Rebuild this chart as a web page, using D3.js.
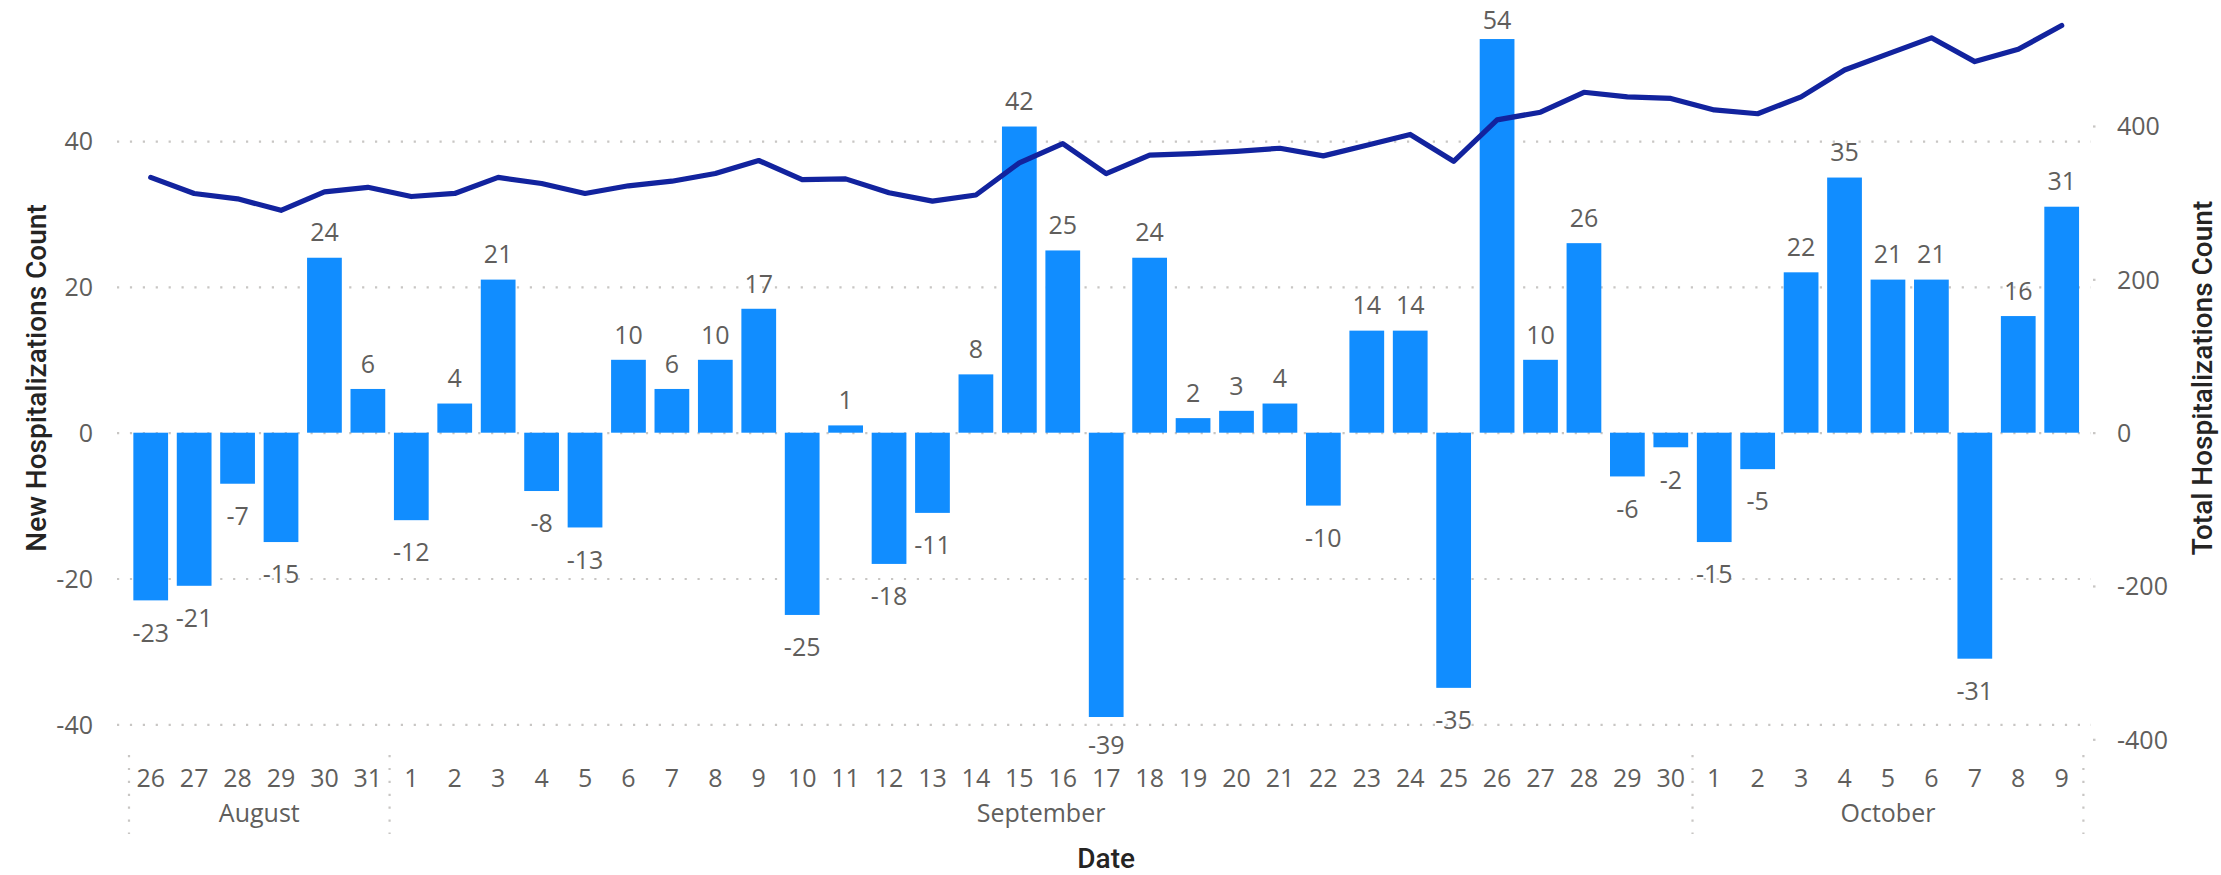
<!DOCTYPE html>
<html>
<head>
<meta charset="utf-8">
<script src="https://cdn.jsdelivr.net/npm/d3@7"></script>
<style>
  html, body { margin: 0; padding: 0; background: #ffffff; }
  svg { display: block; }
</style>
</head>
<body>
<svg id="chart" width="2221" height="875"></svg>
<script>
// ---------------- DATA ----------------
const dayLabels = ["26","27","28","29","30","31",
  "1","2","3","4","5","6","7","8","9","10","11","12","13","14","15","16","17","18","19","20",
  "21","22","23","24","25","26","27","28","29","30",
  "1","2","3","4","5","6","7","8","9"];
const monthNames = ["August", "September", "October"];
const monthDayCounts = [6, 30, 9];
const newHospitalizations = [-23,-21,-7,-15,24,6,
  -12,4,21,-8,-13,10,6,10,17,-25,1,-18,-11,8,42,25,-39,24,2,3,4,-10,14,14,-35,54,10,26,-6,-2,
  -15,-5,22,35,21,21,-31,16,31];
const totalHospitalizations = [333,312,305,290,314,320,
  308,312,333,325,312,322,328,338,355,330,331,313,302,310,352,377,338,362,364,367,371,361,375,389,354,408,418,444,438,436,
  421,416,438,473,494,515,484,500,531];
const leftTicks = [-40, -20, 0, 20, 40];
const rightTicks = [-400, -200, 0, 200, 400];
const leftTitle = "New Hospitalizations Count";
const rightTitle = "Total Hospitalizations Count";
const xTitle = "Date";

// ---------------- STYLE ----------------
const barColor = "#118DFF";
const lineColor = "#12239E";
const labelColor = "#605E5C";
const titleColor = "#252423";
const gridColor = "#C8C6C4";
const labelFont = "'Segoe UI', 'Open Sans', 'Noto Sans', sans-serif";
const titleFont = "'DIN', 'Roboto', 'Open Sans', sans-serif";
const fs = 25;
const fmt = d => String(d);

const svg = d3.select("#chart");

const idx = d3.range(newHospitalizations.length);
const x = d3.scaleBand().domain(idx).range([129, 2083.4]).paddingInner(0.2).paddingOuter(0.1);
const yL = d3.scaleLinear().domain([-40, 40]).range([724.3, 141.1]);
const yR = d3.scaleLinear().domain([-400, 400]).range([739.3, 126]);

// gridlines
const grid = svg.append("g").attr("transform", "translate(117,0)")
  .call(d3.axisLeft(yL).tickValues(leftTicks).tickSize(-(2091 - 117)).tickFormat(""));
grid.select(".domain").remove();
grid.selectAll("line").attr("stroke", gridColor).attr("stroke-width", 2.2)
  .attr("stroke-dasharray", "2.2 10.7");

// left axis labels
const la = svg.append("g").attr("transform", "translate(93,0)")
  .call(d3.axisLeft(yL).tickValues(leftTicks).tickSize(0).tickPadding(0).tickFormat(fmt));
la.select(".domain").remove();
la.selectAll("text").attr("fill", labelColor).attr("font-size", fs).attr("font-family", labelFont)
  .attr("dy", "0.35em");

// right axis labels + tick dots
const ra = svg.append("g").attr("transform", "translate(2117,0)")
  .call(d3.axisRight(yR).tickValues(rightTicks).tickSize(0).tickPadding(0).tickFormat(fmt));
ra.select(".domain").remove();
ra.selectAll("text").attr("fill", labelColor).attr("font-size", fs).attr("font-family", labelFont)
  .attr("dy", "0.35em");
const rd = svg.append("g").attr("transform", "translate(2093,0)")
  .call(d3.axisRight(yR).tickValues(rightTicks).tickSize(2.5).tickFormat(""));
rd.select(".domain").remove();
rd.selectAll("line").attr("stroke", gridColor).attr("stroke-width", 2.2);

// bars
svg.append("g").selectAll("rect").data(idx).join("rect")
  .attr("x", i => x(i))
  .attr("width", x.bandwidth())
  .attr("y", i => Math.min(yL(newHospitalizations[i]), yL(0)))
  .attr("height", i => Math.abs(yL(newHospitalizations[i]) - yL(0)))
  .attr("fill", barColor);

// line
const line = d3.line().x(i => x(i) + x.bandwidth() / 2).y(i => yR(totalHospitalizations[i]));
svg.append("path").datum(idx).attr("d", line)
  .attr("fill", "none").attr("stroke", lineColor).attr("stroke-width", 5.2)
  .attr("stroke-linejoin", "round").attr("stroke-linecap", "round");

// data labels
svg.append("g").selectAll("text").data(idx).join("text")
  .attr("x", i => x(i) + x.bandwidth() / 2)
  .attr("y", i => {
    const v = newHospitalizations[i];
    const yy = yL(v);
    return v >= 0 ? Math.max(yy - 25, 20) : Math.min(yy + 32.5, 745);
  })
  .attr("dy", "0.35em")
  .attr("text-anchor", "middle")
  .attr("fill", labelColor).attr("font-size", fs).attr("font-family", labelFont)
  .text(i => fmt(newHospitalizations[i]));

// bottom axis: day labels
const xa = svg.append("g").attr("transform", "translate(0,786.5)")
  .call(d3.axisBottom(x).tickSize(0).tickFormat(i => dayLabels[i]));
xa.select(".domain").remove();
xa.selectAll("text").attr("y", 0).attr("dy", 0)
  .attr("fill", labelColor).attr("font-size", fs).attr("font-family", labelFont);

// month groups
const half = x.step() * x.paddingInner() / 2;
let start = 0;
const seps = [];
const months = monthNames.map((m, k) => {
  const a = x(start) - half;
  const b = x(start + monthDayCounts[k] - 1) + x.bandwidth() + half;
  start += monthDayCounts[k];
  seps.push(a);
  if (k === monthNames.length - 1) seps.push(b);
  return { name: m, cx: (a + b) / 2 };
});
svg.append("g").selectAll("line").data(seps).join("line")
  .attr("x1", d => d).attr("x2", d => d).attr("y1", 755).attr("y2", 834)
  .attr("stroke", gridColor).attr("stroke-width", 2.2).attr("stroke-dasharray", "2.2 10.7");
svg.append("g").selectAll("text").data(months).join("text")
  .attr("x", d => d.cx).attr("y", 821.5).attr("text-anchor", "middle")
  .attr("fill", labelColor).attr("font-size", fs).attr("font-family", labelFont)
  .text(d => d.name);

// titles
svg.append("text").attr("transform", "translate(36,378) rotate(-90)")
  .attr("text-anchor", "middle").attr("dy", "0.35em")
  .attr("fill", titleColor).attr("font-size", 28).attr("font-weight", 500).attr("font-family", titleFont)
  .text(leftTitle);
svg.append("text").attr("transform", "translate(2202,378) rotate(-90)")
  .attr("text-anchor", "middle").attr("dy", "0.35em")
  .attr("fill", titleColor).attr("font-size", 28).attr("font-weight", 500).attr("font-family", titleFont)
  .text(rightTitle);
svg.append("text").attr("x", (129 + 2083.4) / 2).attr("y", 868)
  .attr("text-anchor", "middle")
  .attr("fill", titleColor).attr("font-size", 28).attr("font-weight", 500).attr("font-family", titleFont)
  .text(xTitle);
</script>
</body>
</html>
